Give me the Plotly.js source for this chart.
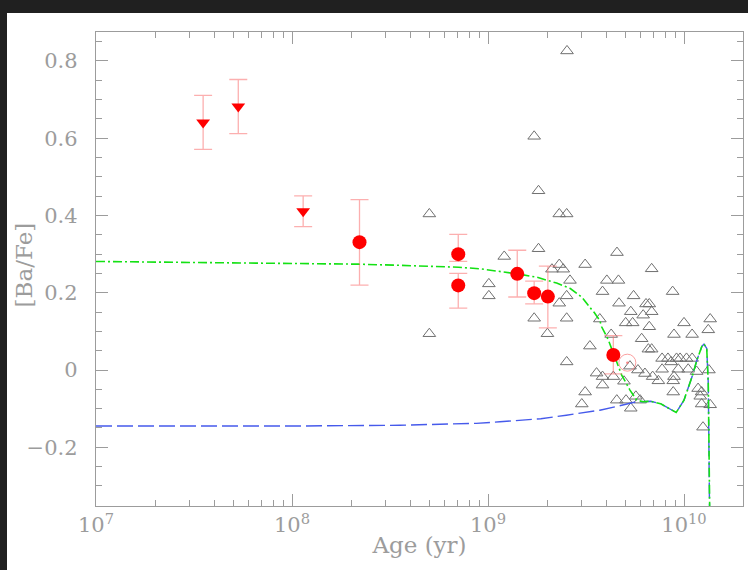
<!DOCTYPE html>
<html>
<head>
<meta charset="utf-8">
<script src="https://cdn.plot.ly/plotly-3.0.1.min.js"></script>
<style>
html,body{margin:0;padding:0;background:#202020;overflow:hidden;width:748px;height:570px;}
#chart{position:absolute;left:7px;top:13px;width:741px;height:557px;background:#fff;}
</style>
</head>
<body>
<div id="chart"></div>
<script>
// Model curves (age in yr, [Ba/Fe])
const blueAge = [1.0e7,1.0e8,3.55e8,8.71e8,1.15e9,1.86e9,2.51e9,3.72e9,4.57e9,5.50e9,6.03e9,6.76e9,7.59e9,8.51e9,9.12e9,1.00e10,1.10e10,1.164e10,1.233e10,1.265e10,1.306e10,1.330e10,1.358e10];
const blueBa  = [-0.145,-0.145,-0.143,-0.138,-0.134,-0.126,-0.117,-0.104,-0.094,-0.084,-0.082,-0.081,-0.087,-0.100,-0.110,-0.078,-0.017,0.026,0.061,0.067,0.056,-0.034,-0.5];

const greenAge = [1.0e7,3.16e7,1.0e8,2.19e8,3.55e8,7.08e8,9.12e8,1.41e9,1.78e9,2.24e9,2.63e9,3.02e9,3.31e9,3.47e9,3.72e9,3.80e9,4.11e9,4.45e9,4.81e9,5.30e9,5.74e9,6.17e9,6.76e9,7.59e9,8.51e9,9.12e9,1.00e10,1.10e10,1.164e10,1.233e10,1.265e10,1.306e10,1.330e10,1.362e10];
const greenBa  = [0.281,0.279,0.276,0.274,0.271,0.266,0.262,0.249,0.240,0.225,0.211,0.188,0.162,0.150,0.128,0.112,0.078,0.030,-0.013,-0.052,-0.078,-0.082,-0.081,-0.087,-0.100,-0.110,-0.078,-0.017,0.026,0.061,0.067,0.056,-0.034,-0.5];

// Field stars (open triangles)
const starAge = [2.53e9,1.72e9,1.81e9,5.02e8,2.31e9,2.52e9,1.81e9,1.21e9,4.55e9,3.13e9,2.31e9,2.12e9,2.42e9,6.84e9,2.62e9,4.04e9,4.63e9,1.01e9,1.01e9,3.84e9,8.75e9,2.52e9,5.53e9,2.31e9,4.66e9,6.40e9,6.65e9,5.35e9,6.84e9,6.19e9,1.72e9,2.52e9,3.72e9,5.04e9,5.47e9,6.65e9,1.00e10,1.36e10,1.33e10,5.02e8,2.01e9,4.25e9,8.89e9,1.10e10,6.08e9,3.31e9,6.58e9,6.84e9,2.52e9,5.30e9,5.82e9,7.73e9,8.28e9,9.16e9,9.55e9,1.03e10,1.10e10,8.59e9,6.32e9,6.92e9,7.40e9,8.89e9,8.81e9,3.58e9,3.84e9,4.36e9,3.84e9,4.94e9,3.13e9,8.81e9,3.01e9,4.54e9,5.06e9,5.68e9,5.97e9,5.35e9,1.18e10,1.23e10,1.21e10,1.23e10,1.36e10,1.25e10,1.34e10,7.73e9,9.35e9,1.05e10,1.16e10];
const starBa  = [0.826,0.605,0.464,0.404,0.404,0.404,0.314,0.294,0.304,0.273,0.273,0.261,0.261,0.262,0.232,0.232,0.232,0.223,0.192,0.203,0.203,0.192,0.192,0.173,0.173,0.171,0.171,0.151,0.151,0.142,0.134,0.134,0.132,0.122,0.122,0.112,0.122,0.132,0.104,0.094,0.094,0.092,0.092,0.092,0.081,0.062,0.054,0.054,0.021,0.010,0.000,0.030,0.030,0.030,0.030,0.030,0.030,0.021,-0.009,-0.017,-0.028,-0.017,-0.028,-0.008,-0.017,-0.017,-0.039,-0.029,-0.057,-0.057,-0.088,-0.078,-0.078,-0.068,-0.078,-0.099,-0.048,-0.057,-0.068,-0.088,-0.090,-0.148,0.000,0.002,0.002,0.002,-0.004];

// Clusters (filled circles) with errors
const clAge = [2.21e8,7.05e8,7.05e8,1.41e9,1.72e9,2.02e9,4.36e9];
const clBa  = [0.331,0.300,0.219,0.249,0.199,0.190,0.039];
const clErrUp   = [0.110,0.051,0.031,0.061,0.031,0.079,0.050];
const clErrDown = [0.111,0.019,0.059,0.060,0.028,0.081,0.049];

// Upper limits (filled down triangles) with errors
const ulAge = [3.52e7,5.32e7,1.14e8];
const ulBa  = [0.641,0.682,0.411];
const ulErr = [0.070,0.070,0.040];

// Sun
const sunAge = [5.14e9];
const sunBa  = [0.019];

// Tick labels
const xTickVals = [1e7,1e8,1e9,1e10];
const xTickText = ['10<sup>7</sup>','10<sup>8</sup>','10<sup>9</sup>','10<sup>10</sup>'];

const grey = '#9c9c9c';
const errColor = 'rgba(250,110,110,0.55)';
const fnt = {family:'"DejaVu Serif", "Liberation Serif", serif', size:21, color:grey};
const titleFnt = {family:'"DejaVu Serif", "Liberation Serif", serif', size:23, color:grey};

const traces = [
  {x:starAge, y:starBa, mode:'markers', type:'scatter',
   marker:{symbol:'triangle-up-open', size:11, color:'#707070', line:{width:1, color:'#707070'}}},
  {x:blueAge, y:blueBa, mode:'lines', type:'scatter',
   line:{color:'rgb(70,90,235)', width:1.4, dash:'16px,5px'}},
  {x:greenAge, y:greenBa, mode:'lines', type:'scatter',
   line:{color:'rgb(20,225,20)', width:1.6, dash:'9px,3px,2px,3px'}},
  {x:clAge, y:clBa, mode:'markers', type:'scatter',
   marker:{symbol:'circle', size:14, color:'#ff0000'},
   error_y:{type:'data', symmetric:false, array:clErrUp, arrayminus:clErrDown, color:errColor, thickness:1.3, width:9}},
  {x:ulAge, y:ulBa, mode:'markers', type:'scatter',
   marker:{symbol:'triangle-down', size:12, color:'#ff0000'},
   error_y:{type:'data', array:ulErr, color:errColor, thickness:1.3, width:9}},
  {x:sunAge, y:sunBa, mode:'markers', type:'scatter',
   marker:{symbol:'circle-open', size:17, color:'rgba(250,120,120,0.7)', line:{width:1}}},
  {x:sunAge, y:sunBa, mode:'markers', type:'scatter',
   marker:{symbol:'circle', size:2.5, color:'rgba(250,110,110,0.8)'}}
];

const xMinor = [];
[1e7,1e8,1e9].forEach(d => { for (let k=2;k<=9;k++) xMinor.push(k*d); });

const layout = {
  width:741, height:557,
  margin:{l:89, r:5, t:19, b:64},
  paper_bgcolor:'#ffffff', plot_bgcolor:'#ffffff',
  showlegend:false,
  font:fnt,
  xaxis:{
    type:'log', range:[7, 10.301], autorange:false,
    showgrid:false, zeroline:false,
    showline:true, linecolor:grey, linewidth:1.2, mirror:'ticks',
    ticks:'inside', ticklen:12, tickwidth:1, tickcolor:grey,
    tickmode:'array', tickvals:xTickVals, ticktext:xTickText,
    ticklabelstandoff:0,
    minor:{tickmode:'array', tickvals:xMinor, ticks:'inside', ticklen:6, tickwidth:1, tickcolor:grey, showgrid:false},
    tickfont:fnt,
    title:{text:'Age (yr)', font:titleFnt, standoff:0}
  },
  yaxis:{
    range:[-0.352, 0.875], autorange:false,
    showgrid:false, zeroline:false,
    showline:true, linecolor:grey, linewidth:1.2, mirror:'ticks',
    ticks:'inside', ticklen:12, tickwidth:1, tickcolor:grey,
    tickmode:'linear', tick0:0, dtick:0.2,
    ticklabelstandoff:13,
    minor:{tickmode:'linear', tick0:0, dtick:0.05, ticks:'inside', ticklen:6, tickwidth:1, tickcolor:grey, showgrid:false},
    tickfont:fnt
  },
  annotations:[
    {text:'[Ba/Fe]', xref:'paper', yref:'paper', x:-0.111, y:0.508,
     xanchor:'center', yanchor:'middle', textangle:-90, showarrow:false, font:titleFnt}
  ]
};

Plotly.newPlot('chart', traces, layout, {displayModeBar:false, staticPlot:true});
</script>
</body>
</html>
